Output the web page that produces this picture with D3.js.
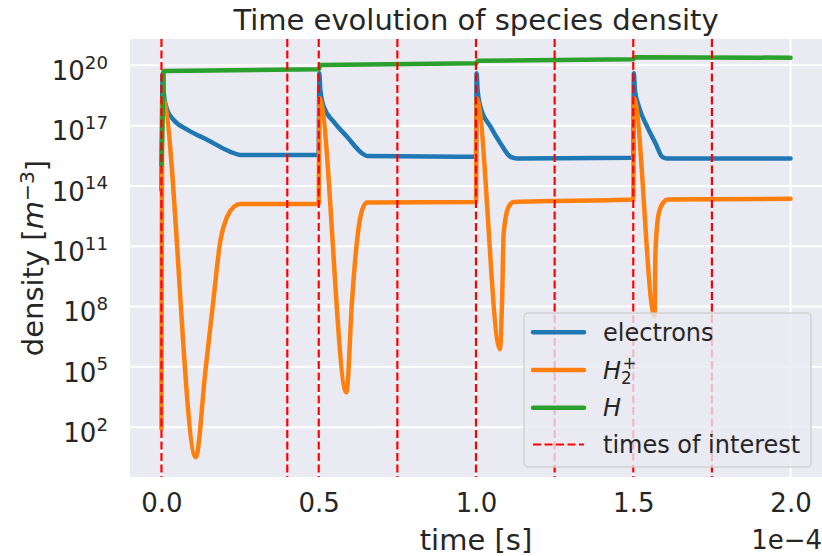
<!DOCTYPE html>
<html><head><meta charset="utf-8">
<script src="https://cdn.jsdelivr.net/npm/d3@7"></script>
<style>
html,body{margin:0;padding:0;background:#fff;}
svg{display:block;font-family:"DejaVu Sans",sans-serif;}
</style></head><body>
<svg id="chart" width="822" height="556"></svg>
<script>
// Times are given in units of 1e-4 s (shown by the axis offset label).
const timeOffsetLabel = "1e\u22124";
const xTicks = [0, 0.5, 1.0, 1.5, 2.0];
const yTickExponents = [2, 5, 8, 11, 14, 17, 20];
const timesOfInterest = [0, 0.4, 0.5, 0.75, 1.0, 1.25, 1.5, 1.75];

// electrons
const electronTime = [0, 0.004, 0.0073, 0.018, 0.038, 0.082, 0.145, 0.219, 0.251, 0.5,
  0.502, 0.505, 0.516, 0.548, 0.590, 0.638, 0.654, 1.0,
  1.002, 1.005, 1.014, 1.046, 1.078, 1.110, 1.131, 1.5,
  1.502, 1.505, 1.518, 1.544, 1.571, 1.592, 1.608, 2.0];
const electronDensity = [6.3e13, 4.0e19, 4.0e18, 6.3e17, 2.0e17, 6.3e16, 2.0e16, 5.0e15, 3.5e15, 3.5e15,
  4.0e19, 6.3e18, 8.7e17, 1.55e17, 2.8e16, 4.2e15, 3.1e15, 2.8e15,
  4.0e19, 6.3e18, 8.7e17, 8.9e16, 1.3e16, 2.8e15, 2.35e15, 2.5e15,
  4.0e19, 6.3e18, 8.7e17, 8.9e16, 1.3e16, 2.8e15, 2.35e15, 2.35e15];

// H2+ ions
const h2pTime = [0, 0.003, 0.109, 0.14, 0.165, 0.1876, 0.209, 0.23, 0.251, 0.5,
  0.502, 0.588, 0.606, 0.622, 0.638, 0.654, 1.0,
  1.002, 1.076, 1.083, 1.088, 1.104, 1.12, 1.5,
  1.502, 1.5676, 1.5707, 1.581, 1.597, 1.61, 2.0];
const h2pDensity = [85, 2.5e18, 3.2, 6.8e4, 2.0e8, 2.0e11, 3.0e12, 9.1e12, 1.26e13, 1.26e13,
  2.3e18, 5.4e3, 2.1e8, 2.0e11, 6.3e12, 1.5e13, 1.6e13,
  2.3e18, 7.6e5, 2.1e8, 4.4e11, 9.3e12, 1.6e13, 2.1e13,
  2.3e18, 3.2e7, 6.3e10, 4.3e12, 1.6e13, 2.1e13, 2.3e13];

// atomic hydrogen
const hTime = [0, 0.007, 0.5, 0.506, 1.0, 1.006, 1.5, 1.506, 2.0];
const hDensity = [1.1e15, 5.2e19, 6.3e19, 1.05e20, 1.26e20, 1.7e20, 2.0e20, 2.5e20, 2.4e20];

const seriesNames = ["electrons", "H2+", "H"];
const seriesColors = ["#1f77b4", "#ff7f0e", "#2ca02c"];

const svg = d3.select("#chart");
const plot = {left: 130, right: 822, top: 39, bottom: 477};
const textColor = "#262626";

const x = d3.scaleLinear().domain([-0.1, 2.1]).range([plot.left, plot.right]);
const y = d3.scaleLog().domain([Math.pow(10, -0.48), Math.pow(10, 21.31)]).range([plot.bottom, plot.top]);

svg.append("defs").append("clipPath").attr("id", "plotClip")
  .append("rect").attr("x", plot.left).attr("y", plot.top)
  .attr("width", plot.right - plot.left).attr("height", plot.bottom - plot.top);

svg.append("rect").attr("x", plot.left).attr("y", plot.top)
  .attr("width", plot.right - plot.left).attr("height", plot.bottom - plot.top)
  .attr("fill", "#eaeaf2");

// grid
const yTickValues = yTickExponents.map(e => Math.pow(10, e));
const grid = svg.append("g");
grid.selectAll("line.h").data(yTickValues).join("line")
  .attr("x1", plot.left).attr("x2", plot.right)
  .attr("y1", d => y(d)).attr("y2", d => y(d))
  .attr("stroke", "#fff").attr("stroke-width", 2);
grid.selectAll("line.v").data(xTicks).join("line")
  .attr("y1", plot.top).attr("y2", plot.bottom)
  .attr("x1", d => x(d)).attr("x2", d => x(d))
  .attr("stroke", "#fff").attr("stroke-width", 2);

// series
const series = [
  {t: electronTime, n: electronDensity, curve: d3.curveMonotoneX},
  {t: h2pTime, n: h2pDensity, curve: d3.curveMonotoneX},
  {t: hTime, n: hDensity, curve: d3.curveLinear}
];
const lines = svg.append("g").attr("clip-path", "url(#plotClip)");
series.forEach((s, i) => {
  const pts = s.t.map((t, k) => [t, s.n[k]]);
  const gen = d3.line().x(d => x(d[0])).y(d => y(d[1])).curve(s.curve);
  lines.append("path").attr("d", gen(pts))
    .attr("fill", "none").attr("stroke", seriesColors[i])
    .attr("stroke-width", 4.5).attr("stroke-linecap", "round").attr("stroke-linejoin", "round");
});

// times of interest
lines.selectAll("line.toi").data(timesOfInterest).join("line")
  .attr("x1", d => x(d)).attr("x2", d => x(d))
  .attr("y1", plot.top).attr("y2", plot.bottom)
  .attr("stroke", "#ff0000").attr("stroke-width", 2.2).attr("stroke-dasharray", "8,3.5");

// x axis
const xAxis = svg.append("g").attr("transform", `translate(0,${plot.bottom})`)
  .call(d3.axisBottom(x).tickValues(xTicks).tickSize(0).tickPadding(30).tickFormat(d3.format(".1f")));
xAxis.select(".domain").remove();
xAxis.selectAll("text").attr("font-size", 26).attr("fill", textColor)
  .attr("font-family", "DejaVu Sans").attr("dy", "0.2em");

// y axis with power-of-ten labels
const yAxis = svg.append("g").attr("transform", `translate(${plot.left},0)`)
  .call(d3.axisLeft(y).tickValues(yTickValues).tickSize(0).tickPadding(22).tickFormat(() => ""));
yAxis.select(".domain").remove();
yAxis.selectAll(".tick text").each(function(d) {
  const t = d3.select(this);
  t.attr("font-size", 26).attr("fill", textColor).attr("font-family", "DejaVu Sans").attr("dy", "0.55em");
  t.append("tspan").text("10");
  t.append("tspan").attr("dy", "-0.62em").attr("font-size", "0.7em").text(Math.round(Math.log10(d)));
});

// labels
svg.append("text").attr("x", (plot.left + plot.right) / 2).attr("y", 30)
  .attr("text-anchor", "middle").attr("font-size", 29).attr("fill", textColor)
  .text("Time evolution of species density");
svg.append("text").attr("x", (plot.left + plot.right) / 2).attr("y", 550)
  .attr("text-anchor", "middle").attr("font-size", 29).attr("fill", textColor)
  .text("time [s]");
svg.append("text").attr("x", plot.right).attr("y", 549)
  .attr("text-anchor", "end").attr("font-size", 26).attr("fill", textColor)
  .text(timeOffsetLabel);
const yl = svg.append("text")
  .attr("transform", `translate(43,${(plot.top + plot.bottom) / 2}) rotate(-90)`)
  .attr("text-anchor", "middle").attr("font-size", 29).attr("fill", textColor);
yl.append("tspan").text("density [");
yl.append("tspan").attr("font-style", "italic").text("m");
yl.append("tspan").attr("dy", "-0.45em").attr("font-size", "0.7em").text("\u22123");
yl.append("tspan").attr("dy", "0.45em").text("]");

// legend
const lg = svg.append("g");
lg.append("rect").attr("x", 524).attr("y", 313).attr("width", 287).attr("height", 154)
  .attr("rx", 4).attr("fill", "#eaeaf2").attr("fill-opacity", 0.8)
  .attr("stroke", "#cccccc").attr("stroke-opacity", 0.8).attr("stroke-width", 1.5);
const rowY = [332.3, 370, 407.7, 444.5];
seriesColors.forEach((c, i) => {
  lg.append("line").attr("x1", 533).attr("x2", 584).attr("y1", rowY[i]).attr("y2", rowY[i])
    .attr("stroke", c).attr("stroke-width", 4.5).attr("stroke-linecap", "round");
});
lg.append("line").attr("x1", 533).attr("x2", 584).attr("y1", rowY[3]).attr("y2", rowY[3])
  .attr("stroke", "#ff0000").attr("stroke-width", 2.2).attr("stroke-dasharray", "8,3.5");
const lt = (i) => lg.append("text").attr("x", 603).attr("y", rowY[i] + 8.7)
  .attr("font-size", 24).attr("fill", textColor);
lt(0).text(seriesNames[0]);
// H2+ : italic H with stacked subscript 2 and superscript +
const t1 = lt(1);
t1.append("tspan").attr("font-style", "italic").text("H");
t1.append("tspan").attr("dy", "0.3em").attr("font-size", "0.7em").text("2");
t1.append("tspan").attr("dx", "-0.55em").attr("dy", "-0.85em").attr("font-size", "0.7em").text("+");
lt(2).append("tspan").attr("font-style", "italic").text(seriesNames[2]);
lt(3).text("times of interest");
</script>
</body></html>
